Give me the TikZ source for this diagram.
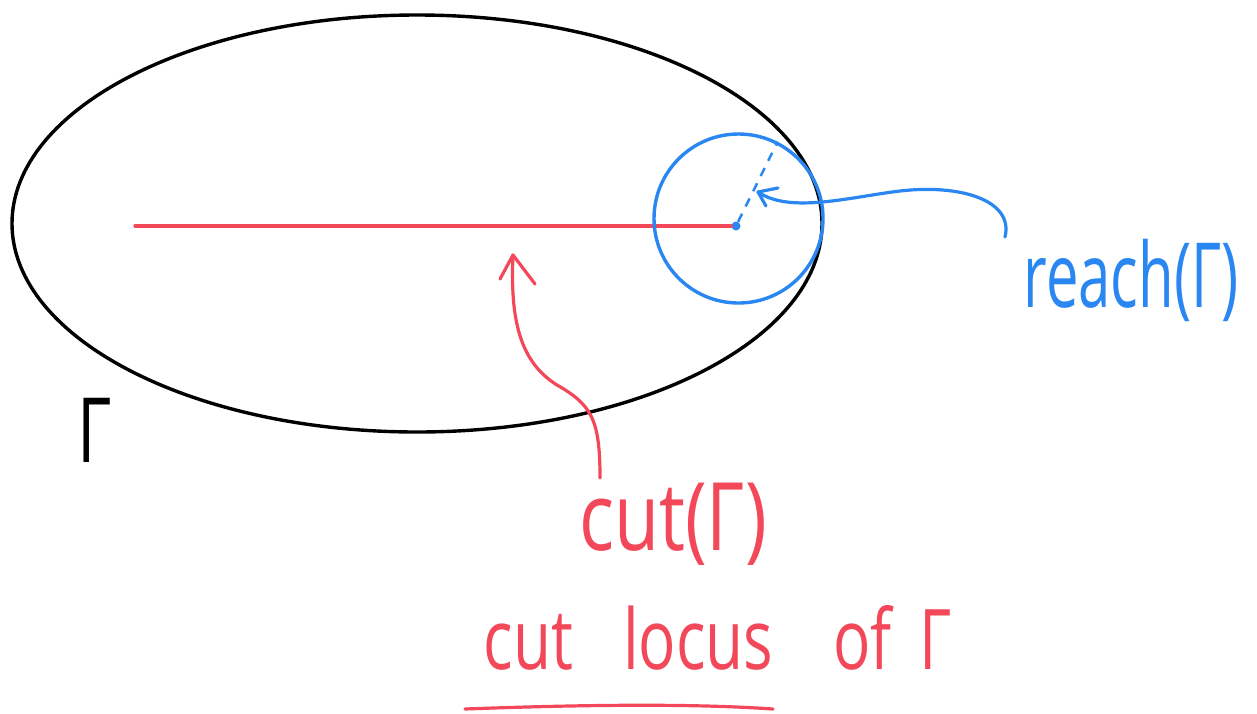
\documentclass[tikz,border=0pt]{standalone}
\usepackage{fontspec}
\setmainfont{Open Sans}
\usetikzlibrary{shapes.geometric}
\definecolor{hblue}{RGB}{42,134,240}
\definecolor{hred}{RGB}{242,72,90}
\begin{document}
\begin{tikzpicture}[x=1pt,y=-1pt,
  stroke/.style={line width=3.2pt, line cap=round, line join=round},
  lbl/.style={inner sep=0pt}]
\useasboundingbox (0,0) rectangle (1257,713);
% main ellipse Gamma
\node[ellipse, draw, line width=3.4pt, minimum width=810pt, minimum height=417pt, inner sep=0pt] (gamma) at (417,223.5) {};
% red cut segment
\coordinate (cutstart) at (135,226);
\node[circle, fill=hblue, minimum size=9pt, inner sep=0pt] (p) at (736,226) {};
\draw[stroke, hred] (cutstart) -- (p);
% blue reach circle
\node[circle, draw=hblue, line width=3.4pt, minimum size=169pt, inner sep=0pt] (ball) at (738.5,218.5) {};
\draw[hblue, line width=2.5pt, dash pattern=on 9pt off 8pt] (p) -- (ball.63);
% labels
\node[lbl, font=\fontsize{60}{70}\selectfont] (G) at (95,430) {\scalebox{1.1}[1.5]{Γ}};
\node[lbl, hblue, font=\fontsize{58}{68}\selectfont] (reachlbl) at (1131,280) {\scalebox{1}[1.55]{reach(Γ)}};
\node[lbl, hred, font=\fontsize{70}{80}\selectfont] (cutlbl) at (673,524) {\scalebox{1.05}[1.35]{cut(Γ)}};
\node[lbl, hred, font=\fontsize{62}{72}\selectfont] (locuslbl) at (718,638) {\scalebox{1}[1.35]{cut\hspace{50pt}locus\hspace{60pt}of\hspace{28pt}Γ}};
% blue arrow
\coordinate (bstart) at (1005,237);
\coordinate (btip) at (758,192);
\draw[stroke, hblue] (bstart) .. controls (1014,200) and (960,184) .. (900,191) .. controls (850,197) and (790,214) .. (btip);
\draw[stroke, hblue] (btip) -- (778,188);
\draw[stroke, hblue] (btip) -- (766,206);
% red arrow
\coordinate (rstart) at (600,478);
\coordinate (rtip) at (513,255);
\draw[stroke, hred] (rstart) .. controls (600,420) and (592,405) .. (557,385) .. controls (520,362) and (510,320) .. (rtip);
\draw[stroke, hred] (rtip) -- (500,279);
\draw[stroke, hred] (rtip) -- (535,284);
% underline
\coordinate (u1) at (465,709);
\coordinate (u2) at (773,709);
\draw[stroke, hred] (u1) .. controls (600,704) and (700,704) .. (u2);
\end{tikzpicture}
\end{document}
